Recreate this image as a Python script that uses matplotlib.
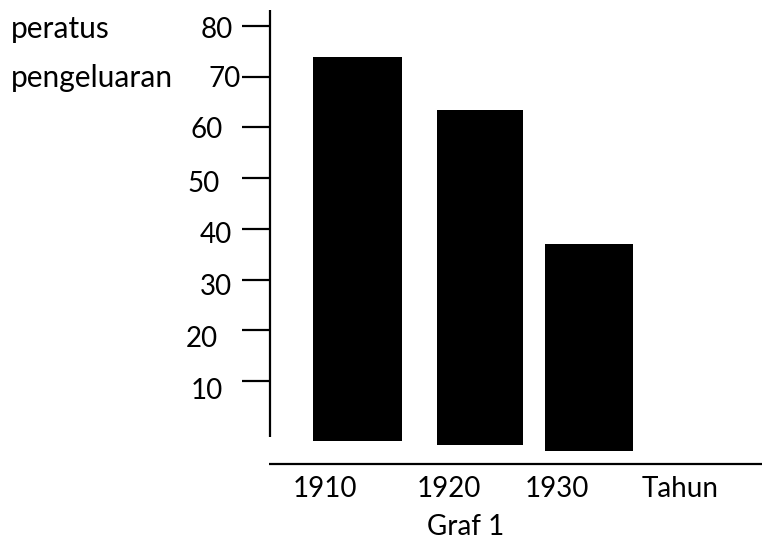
import matplotlib.pyplot as plt

plt.rcParams['font.family'] = ['Lato', 'DejaVu Sans']

# data (bars are hand drawn, they dip a little below zero)
years = ['1910', '1920', '1930']
bar_top = [73.8, 63.4, 37.0]
bar_bottom = [-1.9, -2.6, -3.8]
ytick_values = [10, 20, 30, 40, 50, 60, 70, 80]
ytick_labels = ['10', '20', '30', '40', '50', '60', '70', '80']

# layout (pixels of a 762x539 picture)
W, H = 762, 539
bar_x = [357.5, 479.8, 588.9]
bar_w = [88.4, 85.7, 87.7]
zero_px, px_per_unit = 431.7, 5.071
label_right = [222.7, 218, 231.7, 231.7, 220, 222.7, 241, 233.3]
label_base = [399, 346.7, 295, 243, 191.7, 138.3, 87, 38]
year_left = [293, 417, 525]


def val(ypx):
    return (zero_px - ypx) / px_per_unit


fig = plt.figure(figsize=(W / 100, H / 100), dpi=100)
ax = fig.add_axes([0, 0, 1, 1])
ax.set_xlim(0, W)
ax.set_ylim(val(H), val(0))
ax.axis('off')

heights = [t - b for t, b in zip(bar_top, bar_bottom)]
ax.bar(bar_x, heights, width=bar_w, bottom=bar_bottom, color='black')

# axes drawn by hand
ax.plot([269.5, 269.5], [val(10), val(437)], color='black', lw=1.6, solid_capstyle='butt')
ax.plot([269, W], [val(463.7), val(463.7)], color='black', lw=1.6, solid_capstyle='butt')
ax.hlines(ytick_values, 242, 269.5, color='black', lw=1.6)

fs = 20
for lab, xr, yb in zip(ytick_labels, label_right, label_base):
    fig.text(xr / W, 1 - yb / H, lab, ha='right', va='baseline', fontsize=fs)

for lab, xl in zip(years, year_left):
    fig.text(xl / W, 1 - 496.7 / H, lab, ha='left', va='baseline', fontsize=fs)
fig.text(641.7 / W, 1 - 496.7 / H, 'Tahun', ha='left', va='baseline', fontsize=fs)
fig.text(426.7 / W, 1 - 535 / H, 'Graf 1', ha='left', va='baseline', fontsize=fs)

fig.text(11 / W, 1 - 37.7 / H, 'peratus', ha='left', va='baseline', fontsize=21.5)
fig.text(11 / W, 1 - 87 / H, 'pengeluaran', ha='left', va='baseline', fontsize=21.5)

fig.savefig('out.png', dpi=100)
